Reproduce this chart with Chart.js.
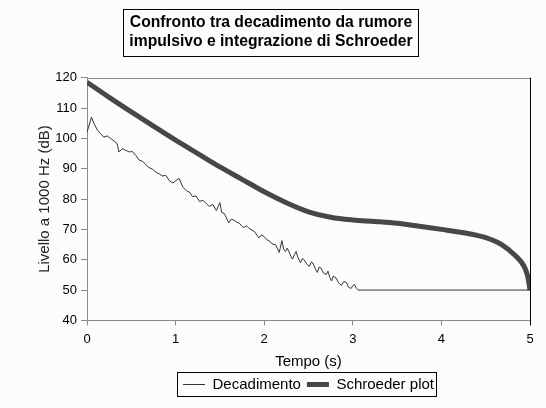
<!DOCTYPE html>
<html><head><meta charset="utf-8">
<script src="https://cdn.jsdelivr.net/npm/chart.js@4/dist/chart.umd.min.js"></script>
<style>html,body{margin:0;padding:0;background:#fcfcfc;}</style>
</head><body>
<canvas id="c" width="546" height="408"></canvas>
<script>
const titleLines = ['Confronto tra decadimento da rumore', 'impulsivo e integrazione di Schroeder'];
const xTitle = 'Tempo (s)';
const yTitle = 'Livello a 1000 Hz (dB)';
const seriesNames = ['Decadimento', 'Schroeder plot'];

const decTime = [0, 0.05, 0.08, 0.12, 0.155, 0.19, 0.23, 0.27, 0.31, 0.34, 0.36, 0.4, 0.44, 0.48, 0.51, 0.55, 0.59, 0.63, 0.67, 0.7, 0.74, 0.78, 0.82, 0.85, 0.89, 0.93, 0.97, 1.0, 1.04, 1.08, 1.12, 1.16, 1.19, 1.23, 1.27, 1.31, 1.35, 1.38, 1.42, 1.46, 1.5, 1.52, 1.55, 1.6, 1.63, 1.66, 1.69, 1.72, 1.75, 1.77, 1.8, 1.83, 1.86, 1.89, 1.92, 1.94, 1.97, 2.0, 2.03, 2.06, 2.09, 2.13, 2.15, 2.17, 2.2, 2.22, 2.24, 2.26, 2.28, 2.3, 2.32, 2.34, 2.36, 2.38, 2.41, 2.43, 2.45, 2.48, 2.51, 2.53, 2.55, 2.58, 2.6, 2.62, 2.64, 2.67, 2.7, 2.72, 2.74, 2.76, 2.78, 2.81, 2.84, 2.87, 2.9, 2.93, 2.95, 2.98, 3.0, 3.02, 3.04, 3.06, 5.0];
const decLevel = [102, 107, 104.8, 102.6, 101.5, 100.4, 100.8, 99.9, 99, 98.3, 95.5, 96.6, 96, 95.5, 95.7, 94.4, 92.8, 92.4, 91.1, 90.4, 89.8, 88.8, 88.2, 87.6, 87.8, 86, 85.3, 86, 86.8, 84, 82.8, 82.2, 80.8, 81, 79.2, 79.6, 78.4, 77.6, 78.2, 76.2, 78.8, 75.6, 75.2, 72.2, 73.4, 73, 72.4, 72, 71, 70.6, 71.2, 70.3, 69.8, 69.3, 68, 67.2, 68.2, 67.6, 66.6, 66.2, 65.2, 64.9, 63.6, 62.4, 66.3, 63.4, 62.7, 63.8, 62.6, 61.2, 60.2, 61.6, 62.7, 60.8, 59, 60.4, 60, 58.6, 57.8, 59.2, 58.9, 56.8, 55.8, 57.6, 57.3, 55.6, 55.1, 56.2, 54.2, 53, 54.6, 54, 52.4, 51.5, 52.8, 52.4, 51, 50.5, 51.4, 51.8, 50.6, 50, 50];

const schTime = [0, 0.25, 0.5, 0.75, 1, 1.25, 1.5, 1.75, 2, 2.25, 2.5, 2.75, 3, 3.25, 3.5, 3.75, 4, 4.25, 4.5, 4.68, 4.83, 4.93, 4.97, 4.99, 5];
const schLevel = [118.5, 113.5, 108.7, 104, 99.4, 95, 90.6, 86.5, 82.4, 78.8, 75.8, 74, 73.1, 72.6, 72, 71, 70, 68.9, 67.3, 65, 61.5, 58, 55, 52, 50];

const xTicks = [0, 1, 2, 3, 4, 5];
const yTicks = [40, 50, 60, 70, 80, 90, 100, 110, 120];

const FONT = '"Liberation Sans", Arial, sans-serif';
const TITLE_SIZE = 15.7;

const boxPlugin = {
  id: 'boxes',
  beforeDraw(chart) {
    const ctx = chart.ctx;
    ctx.save();
    ctx.fillStyle = '#fcfcfc';
    ctx.fillRect(0, 0, chart.width, chart.height);
    ctx.restore();
  },
  afterDraw(chart) {
    const ctx = chart.ctx, ca = chart.chartArea;
    ctx.save();
    ctx.lineWidth = 1;
    ctx.strokeStyle = '#8a8a8a';
    ctx.beginPath();
    ctx.moveTo(ca.left, Math.round(ca.top) + 0.5);
    ctx.lineTo(ca.right, Math.round(ca.top) + 0.5);
    ctx.stroke();
    ctx.strokeStyle = '#000';
    ctx.beginPath();
    ctx.moveTo(Math.round(ca.right) + 0.5, ca.top);
    ctx.lineTo(Math.round(ca.right) + 0.5, ca.bottom + 5);
    ctx.stroke();

    // title box
    const tb = chart.titleBlock;
    const tOpts = chart.options.plugins.title;
    ctx.font = 'bold ' + tOpts.font.size + 'px ' + FONT;
    let w = 0;
    titleLines.forEach(l => { w = Math.max(w, ctx.measureText(l).width); });
    const lh = tOpts.font.size * tOpts.font.lineHeight;
    const textTop = tb.top + tOpts.padding.top;
    const cx = (tb.left + tb.right) / 2;
    ctx.strokeStyle = '#000';
    ctx.strokeRect(Math.round(cx - w / 2 - 6) + 0.5, Math.round(textTop - 4) + 0.5,
                   Math.round(w + 12), Math.round(lh * titleLines.length + 9));

    // legend box
    const hb = chart.legend.legendHitBoxes;
    if (hb && hb.length) {
      let l = Infinity, r = -Infinity, t = Infinity, b = -Infinity;
      hb.forEach(h => { l = Math.min(l, h.left); r = Math.max(r, h.left + h.width); t = Math.min(t, h.top); b = Math.max(b, h.top + h.height); });
      ctx.strokeStyle = '#000';
      ctx.strokeRect(Math.round(l - 6) + 0.5, Math.round(t - 5) + 0.5, Math.round(r - l + 8), Math.round(b - t + 9));
    }
    ctx.restore();
  }
};

new Chart(document.getElementById('c'), {
  type: 'line',
  data: {
    datasets: [
      {
        label: seriesNames[0],
        data: decTime.map((t, i) => ({ x: t, y: decLevel[i] })),
        borderColor: '#333333', borderWidth: 1, pointRadius: 0, pointStyle: 'line', tension: 0
      },
      {
        label: seriesNames[1],
        data: schTime.map((t, i) => ({ x: t, y: schLevel[i] })),
        borderColor: '#474747', borderWidth: 5, pointRadius: 0, pointStyle: 'line',
        cubicInterpolationMode: 'monotone'
      }
    ]
  },
  options: {
    responsive: false, animation: false, devicePixelRatio: 1,
    layout: { padding: { left: 12, right: 16, top: 0, bottom: 6 } },
    plugins: {
      title: {
        display: true, text: titleLines, color: '#000',
        font: { family: FONT, size: TITLE_SIZE, weight: 'bold', lineHeight: 1.2 },
        padding: { top: 13, bottom: 27 }
      },
      legend: {
        position: 'bottom', fullSize: false,
        labels: {
          usePointStyle: true, pointStyleWidth: 22, color: '#000',
          font: { family: FONT, size: 15 }, padding: 6
        }
      },
      tooltip: { enabled: false }
    },
    scales: {
      x: {
        type: 'linear', min: 0, max: 5,
        afterBuildTicks: s => { s.ticks = xTicks.map(v => ({ value: v })); },
        ticks: { color: '#000', font: { family: FONT, size: 13 }, padding: 6 },
        grid: { drawOnChartArea: false, drawTicks: true, tickLength: 5, color: '#8a8a8a' },
        border: { color: '#8a8a8a' },
        title: { display: true, text: xTitle, color: '#000', font: { family: FONT, size: 15 }, padding: { top: 0, bottom: 0 } }
      },
      y: {
        min: 40, max: 120,
        afterBuildTicks: s => { s.ticks = yTicks.map(v => ({ value: v })); },
        afterFit: s => { s.width = 75; },
        ticks: { color: '#000', font: { family: FONT, size: 13 }, padding: 4 },
        grid: { drawOnChartArea: false, drawTicks: true, tickLength: 6, color: '#8a8a8a' },
        border: { color: '#8a8a8a' },
        title: { display: true, text: yTitle, color: '#222', font: { family: FONT, size: 15 }, padding: { top: 24, bottom: 0 } }
      }
    }
  },
  plugins: [boxPlugin]
});
</script>
</body></html>
